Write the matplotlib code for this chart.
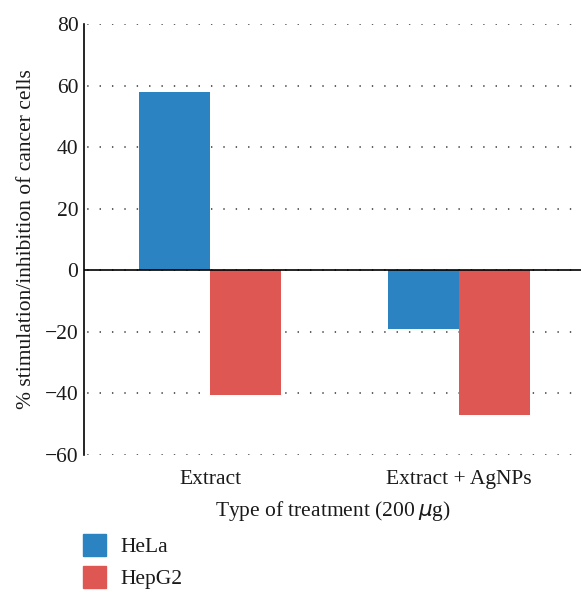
import numpy as np
import matplotlib.pyplot as plt
from matplotlib.patches import Patch

plt.rcParams['font.family'] = ['Liberation Serif', 'DejaVu Serif']

treatments = ["Extract", "Extract + AgNPs"]
hela = [57.8, -19.2]
hepg2 = [-40.6, -47.0]
series_names = ["HeLa", "HepG2"]
colors = ["#2b83c1", "#de5753"]

fig = plt.figure(figsize=(5.81, 5.92), dpi=100)
ax = fig.add_axes([0.1446, 0.2314, 0.8554, 0.7281])

x = np.arange(len(treatments))
w = 0.285
ax.bar(x - w / 2, hela, w, color=colors[0], zorder=3)
ax.bar(x + w / 2, hepg2, w, color=colors[1], zorder=3)

ax.set_xlim(-0.506, 1.49)
ax.set_ylim(-60, 80)
ticks = np.arange(-60, 81, 20)
ax.set_yticks(ticks)
ax.set_yticklabels([str(v).replace("-", "\u2212") for v in ticks])
ax.set_xticks(x)
ax.set_xticklabels(treatments)

# dotted horizontal grid
ax.yaxis.grid(True, linestyle=(6, (0.9, 7.2)), color="#333333", linewidth=1.1, zorder=0)
ax.axhline(0, color="black", linewidth=1.2, zorder=4)
for s in ["top", "right", "bottom"]:
    ax.spines[s].set_visible(False)
ax.spines["left"].set_linewidth(1.2)
ax.tick_params(axis="both", length=0, labelsize=15.5, colors="#1a1a1a")
ax.tick_params(axis="y", pad=4)
ax.tick_params(axis="x", pad=11)

ax.set_ylabel("% stimulation/inhibition of cancer cells", fontsize=15.5, labelpad=6, color="#1a1a1a")
ax.set_xlabel("Type of treatment (200\u2009$\\mu$g)", fontsize=15.5, labelpad=7, color="#1a1a1a")

handles = [Patch(color=c, label=n) for c, n in zip(colors, series_names)]
fig.legend(handles=handles, loc="lower left", bbox_to_anchor=(0.11, -0.028),
           frameon=False, fontsize=15.5, handlelength=1.07, handleheight=1.15,
           labelspacing=0.42, handletextpad=0.65, labelcolor="#1a1a1a")

fig.savefig("out.png", dpi=100)
